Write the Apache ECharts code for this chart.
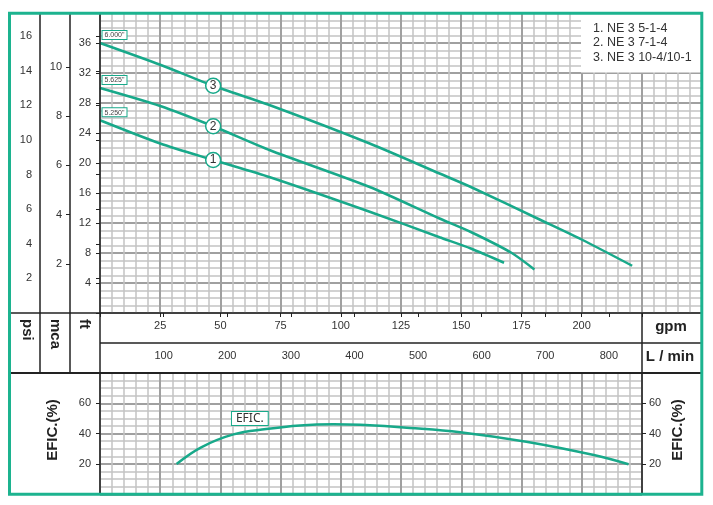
<!DOCTYPE html>
<html><head><meta charset="utf-8">
<script src="https://cdn.jsdelivr.net/npm/echarts@6/dist/echarts.min.js"></script>
<style>html,body{margin:0;padding:0;background:#fff}#c{width:713px;height:505px}</style>
</head><body><div id="c"></div>
<script>
// ---- data ----
const pumpNames = ['1. NE 3 5-1-4', '2. NE 3 7-1-4', '3. NE 3 10-4/10-1'];
const curveNums = ['1', '2', '3'];
const impellers = ['5.250"', '5.625"', '6.000"'];
// flow in gpm, head in ft
const flow1 = [0, 25, 47, 70.6, 112, 141, 154, 167.8];
const head1 = [25.7, 22.6, 20.4, 18.1, 13.5, 10.1, 8.6, 6.7];
const flow2 = [0, 25, 47, 70.6, 112, 141, 154, 171, 180.4];
const head2 = [30, 27.6, 24.9, 21.7, 16.8, 12.6, 10.8, 8.0, 5.8];
const flow3 = [0, 25, 47, 70.6, 112, 141, 154, 183, 200, 221];
const head3 = [36, 33.1, 30.3, 27.7, 22.6, 18.6, 16.8, 12.4, 9.8, 6.3];
// efficiency (%) vs gpm
const effFlow = [31.8, 42, 55.4, 69, 83, 97, 108, 128.7, 149.5, 177, 205, 219.4];
const effVal = [20, 31, 39.5, 43, 45.4, 46.2, 45.8, 43.8, 41, 34.7, 25.9, 19.8];
// axis ticks
const psiTicks = [2, 4, 6, 8, 10, 12, 14, 16];
const mcaTicks = [2, 4, 6, 8, 10];
const lpmTicks = [100, 200, 300, 400, 500, 600, 700, 800];
const FT_PER_PSI = 2.30666, FT_PER_M = 3.28084, L_PER_GAL = 3.78541;
const FT_MAX = 40, GPM_MAX = 250, GPM_MAX_EFF = 225;

const GREEN = '#18a98a';
const BORDER = '#1cb38f';
const TXT = '#333';
const FONT = '"Liberation Sans", Arial, sans-serif';
const MAJOR = {color: '#a0a0a0', width: 2};
const MINOR = {color: '#c4c4c4', width: 1.5};

function curve(idx, flows, heads) {
  const data = flows.map((f, i) => {
    const item = {value: [f, heads[i]]};
    if (i === 0) {
      item.symbol = 'circle'; item.symbolSize = 1;
      item.itemStyle = {color: GREEN};
      item.label = {show: true, formatter: impellers[idx], position: [3, -11.5],
        fontSize: 7, fontFamily: FONT, color: '#444', backgroundColor: '#fff',
        borderColor: GREEN, borderWidth: 1, padding: [1, 2, 0, 2]};
    }
    if (i === 2) {
      item.symbol = 'circle'; item.symbolSize = 15;
      item.itemStyle = {color: '#fff', borderColor: GREEN, borderWidth: 1.5};
      item.label = {show: true, position: 'inside', formatter: curveNums[idx],
        fontSize: 12, fontFamily: FONT, color: TXT};
    }
    return item;
  });
  return {type: 'line', name: pumpNames[idx], xAxisIndex: 0, yAxisIndex: 0,
    symbol: 'none', showSymbol: true, smooth: 0.25, data,
    lineStyle: {color: GREEN, width: 2.5}, itemStyle: {color: GREEN},
    emphasis: {disabled: true}, z: 5};
}

const effData = effFlow.map((f, i) => {
  const item = {value: [f, effVal[i]]};
  if (i === 2) {
    item.symbol = 'circle'; item.symbolSize = 1; item.itemStyle = {color: GREEN};
    item.label = {show: true, formatter: 'EFIC.', position: [-1, -22],
      fontSize: 12, fontFamily: '"Noto Sans", sans-serif', color: TXT,
      backgroundColor: '#fff', borderColor: GREEN, borderWidth: 1, padding: [1, 4, 0, 4]};
  }
  return item;
});

const lbl = (extra) => Object.assign({fontSize: 11, fontFamily: FONT, color: TXT}, extra);
const tick = {show: true, length: 4, lineStyle: {color: '#222', width: 1}};

const option = {
  animation: false,
  backgroundColor: '#fff',
  grid: [
    {left: 100, top: 13, width: 602, height: 300},
    {left: 100, top: 373, width: 542, height: 121.3}
  ],
  xAxis: [
    {gridIndex: 0, type: 'value', min: 0, max: GPM_MAX, interval: 25, position: 'bottom',
      axisLine: {show: false}, axisTick: tick,
      axisLabel: lbl({margin: 7, formatter: v => (v > 0 && v <= 200) ? String(v) : ''}),
      splitLine: {show: true, lineStyle: MAJOR},
      minorTick: {show: false, splitNumber: 5}, minorSplitLine: {show: true, lineStyle: MINOR}},
    {gridIndex: 0, type: 'value', min: 0, max: GPM_MAX * L_PER_GAL, position: 'bottom', offset: 30,
      axisLine: {show: false},
      axisTick: Object.assign({customValues: lpmTicks}, tick),
      axisLabel: lbl({margin: 7, customValues: lpmTicks}),
      splitLine: {show: false}},
    {gridIndex: 1, type: 'value', min: 0, max: GPM_MAX_EFF, interval: 25,
      axisLine: {show: false}, axisTick: {show: false}, axisLabel: {show: false},
      splitLine: {show: true, lineStyle: MAJOR},
      minorTick: {show: false, splitNumber: 5}, minorSplitLine: {show: true, lineStyle: MINOR}}
  ],
  yAxis: [
    {gridIndex: 0, type: 'value', min: 0, max: FT_MAX, interval: 4, position: 'left',
      axisLine: {show: false}, axisTick: tick,
      axisLabel: lbl({margin: 9, formatter: v => (v > 0 && v < FT_MAX) ? String(v) : ''}),
      splitLine: {show: true, lineStyle: MAJOR},
      minorTick: {show: false, splitNumber: 4}, minorSplitLine: {show: true, lineStyle: MINOR}},
    {gridIndex: 0, type: 'value', min: 0, max: FT_MAX / FT_PER_PSI, position: 'left', offset: 60,
      axisLine: {show: false}, axisTick: Object.assign({customValues: psiTicks}, tick),
      axisLabel: lbl({margin: 8, customValues: psiTicks}),
      splitLine: {show: false}},
    {gridIndex: 0, type: 'value', min: 0, max: FT_MAX / FT_PER_M, position: 'left', offset: 30,
      axisLine: {show: false}, axisTick: Object.assign({customValues: mcaTicks}, tick),
      axisLabel: lbl({margin: 8, customValues: mcaTicks}),
      splitLine: {show: false}},
    {gridIndex: 1, type: 'value', min: 0, max: 80, interval: 20, position: 'left',
      axisLine: {show: false}, axisTick: tick,
      axisLabel: lbl({margin: 9, formatter: v => (v > 0 && v < 80) ? String(v) : ''}),
      splitLine: {show: true, lineStyle: MAJOR},
      minorTick: {show: false, splitNumber: 4}, minorSplitLine: {show: true, lineStyle: MINOR}},
    {gridIndex: 1, type: 'value', min: 0, max: 80, interval: 20, position: 'right',
      axisLine: {show: false}, axisTick: tick,
      axisLabel: lbl({margin: 7, formatter: v => (v > 0 && v < 80) ? String(v) : ''}),
      splitLine: {show: false}}
  ],
  series: [
    curve(0, flow1, head1),
    curve(1, flow2, head2),
    curve(2, flow3, head3),
    {type: 'line', name: 'EFIC.', xAxisIndex: 2, yAxisIndex: 3, symbol: 'none', showSymbol: true,
      smooth: 0.4, data: effData, lineStyle: {color: GREEN, width: 2.5},
      itemStyle: {color: GREEN}, emphasis: {disabled: true}, z: 5}
  ],
  graphic: []
};

const G = option.graphic;
const line = (x1, y1, x2, y2, w) => G.push({type: 'line', z: 100, silent: true,
  shape: {x1, y1, x2, y2}, style: {stroke: '#222', lineWidth: w || 1.5}});
line(10, 313, 702, 313);
line(100, 343, 702, 343);
line(10, 373, 702, 373, 2);
line(40, 13, 40, 373);
line(70, 13, 70, 373);
line(100, 13, 100, 494);
line(642, 313, 642, 494);

// legend box
G.push({type: 'rect', z: 110, silent: true, shape: {x: 581, y: 13, width: 120, height: 59.5},
  style: {fill: '#fff'}});
pumpNames.forEach((n, i) => G.push({type: 'text', z: 120, silent: true, x: 593, y: 28.3 + i * 14.4,
  style: {text: n, fontSize: 12.5, fontFamily: FONT, fill: TXT, textVerticalAlign: 'middle'}}));

const bold = (text, x, y, rot, align) => G.push({type: 'text', z: 120, silent: true, x, y,
  rotation: rot || 0,
  style: {text, fontSize: 15, fontWeight: 'bold', fontFamily: FONT, fill: '#222',
    textAlign: align || 'center', textVerticalAlign: 'middle'}});
bold('psi', 27, 319, -Math.PI / 2, 'left');
bold('mca', 55, 319, -Math.PI / 2, 'left');
bold('ft', 84, 319, -Math.PI / 2, 'left');
bold('gpm', 671, 327);
bold('L / min', 670, 357);
bold('EFIC.(%)', 53, 430, Math.PI / 2);
bold('EFIC.(%)', 678, 430, Math.PI / 2);

// outer border
G.push({type: 'rect', z: 200, silent: true, shape: {x: 9.5, y: 13.3, width: 692.3, height: 481},
  style: {fill: 'none', stroke: BORDER, lineWidth: 3}});

const chart = echarts.init(document.getElementById('c'), null, {renderer: 'canvas'});
chart.setOption(option);
</script>
</body></html>
